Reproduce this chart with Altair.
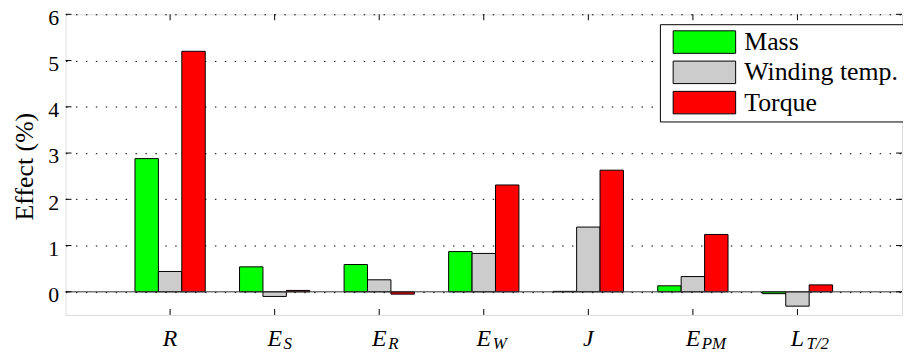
import altair as alt
import pandas as pd

categories = ["R", "E_S", "E_R", "E_W", "J", "E_PM", "L_T/2"]
label_main = ["R", "E", "E", "E", "J", "E", "L"]
label_sub = ["", "S", "R", "W", "", "PM", "T/2"]
series = ["Mass", "Winding temp.", "Torque"]
mass = [2.88, 0.54, 0.59, 0.87, 0.01, 0.13, -0.04]
winding = [0.44, -0.10, 0.26, 0.83, 1.40, 0.33, -0.31]
torque = [5.20, 0.03, -0.05, 2.31, 2.63, 1.24, 0.15]
colors = ["#00ff00", "#cccccc", "#ff0000"]
y_ticks = [0, 1, 2, 3, 4, 5, 6]

W, H = 843, 303
SERIF = "Liberation Serif"

rows = []
for s, vals in zip(series, [mass, winding, torque]):
    for c, v in zip(categories, vals):
        rows.append({"cat": c, "series": s, "value": v})
df = pd.DataFrame(rows)

xscale = alt.Scale(paddingInner=0.328, paddingOuter=0.664)
yscale = alt.Scale(domain=[-0.5, 6], nice=False, zero=False)
legend_path = "M-4.55,-1L1,-1L1,1L-4.55,1Z"

bars = alt.Chart(df).mark_bar(stroke="black", strokeWidth=1).encode(
    x=alt.X("cat:N", sort=categories, scale=xscale, axis=None),
    xOffset=alt.XOffset("series:N", sort=series),
    y=alt.Y("value:Q", scale=yscale,
            axis=alt.Axis(values=y_ticks, title="Effect (%)", grid=True,
                          gridDash=[1.5, 8.5], gridColor="black", gridWidth=1,
                          domain=False, ticks=False, labelPadding=7,
                          labelOffset=3,
                          labelFont=SERIF, labelFontSize=22,
                          labelColor="black", titleFont=SERIF,
                          titleFontSize=26, titleFontWeight="normal",
                          titleColor="black", titleX=-41, titleY=153,
                          titleAngle=-90, titleBaseline="middle",
                          titleAlign="center")),
    color=alt.Color("series:N", sort=series, title=None,
                    scale=alt.Scale(domain=series, range=colors),
                    legend=alt.Legend(orient="none", legendX=599, legendY=10,
                                      direction="vertical", strokeColor="black",
                                      fillColor="white", padding=5,
                                      symbolType=legend_path, symbolSize=515,
                                      symbolOffset=47,
                                      symbolStrokeColor="black",
                                      symbolStrokeWidth=1, symbolOpacity=1,
                                      labelFont=SERIF,
                                      labelFontSize=26, labelColor="black",
                                      labelOffset=7, rowPadding=2.5)),
)

zero_df = pd.DataFrame({"value": [0]})
zero_line = alt.Chart(zero_df).mark_rule(color="#333333", strokeWidth=1).encode(
    y=alt.Y("value:Q")
)

tick_df = pd.DataFrame({"cat": categories})
top_ticks = alt.Chart(tick_df).mark_rule(color="black", strokeWidth=1).encode(
    x=alt.X("cat:N", sort=categories, axis=None), y=alt.value(0), y2=alt.value(6)
)
bottom_ticks = alt.Chart(tick_df).mark_rule(color="black", strokeWidth=1).encode(
    x=alt.X("cat:N", sort=categories, axis=None), y=alt.value(H - 6), y2=alt.value(H)
)

ytick_df = pd.DataFrame({"value": y_ticks})
left_ticks = alt.Chart(ytick_df).mark_rule(color="black", strokeWidth=1).encode(
    y=alt.Y("value:Q"), x=alt.value(0), x2=alt.value(6)
)
right_ticks = alt.Chart(ytick_df).mark_rule(color="black", strokeWidth=1).encode(
    y=alt.Y("value:Q"), x=alt.value(W - 6), x2=alt.value(W)
)

lab_df = pd.DataFrame({"cat": categories, "main": label_main, "sub": label_sub})
main_text = alt.Chart(lab_df).mark_text(
    font=SERIF, fontStyle="italic", fontSize=24,
    baseline="alphabetic", align="center", dy=31, color="black"
).encode(x=alt.X("cat:N", sort=categories, axis=None), y=alt.value(H), text="main:N")
sub_text = alt.Chart(lab_df).mark_text(
    font=SERIF, fontStyle="italic", fontSize=17,
    baseline="alphabetic", align="left", dx=9, dy=34, color="black"
).encode(x=alt.X("cat:N", sort=categories, axis=None), y=alt.value(H), text="sub:N")

chart = alt.layer(
    bars, zero_line, top_ticks, bottom_ticks, left_ticks, right_ticks, main_text, sub_text
).properties(
    width=W, height=H,
    autosize=alt.AutoSizeParams(type="none"),
    padding={"left": 58, "top": 5, "right": 1, "bottom": 37},
).configure_view(stroke="black", strokeWidth=1.3).configure(background="white")

chart.save("out.html", embed_options={"renderer": "svg", "actions": False})
